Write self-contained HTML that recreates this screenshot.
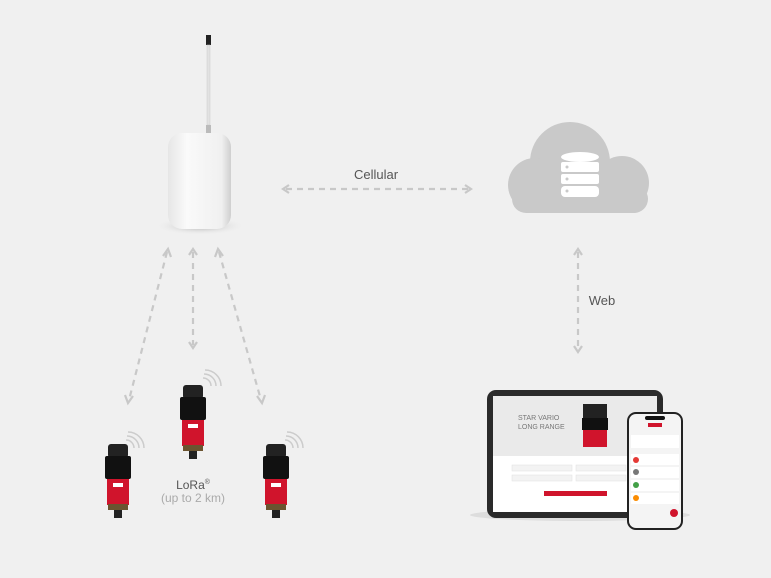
<!DOCTYPE html>
<html><head><meta charset="utf-8"><style>
html,body{margin:0;padding:0;background:#f0f0f0;}
svg{display:block;font-family:"Liberation Sans",sans-serif;}
</style></head><body>
<svg width="771" height="578" viewBox="0 0 771 578" xmlns="http://www.w3.org/2000/svg">
<defs>
<radialGradient id="sh" cx="0.5" cy="0.5" r="0.5"><stop offset="0" stop-color="#888" stop-opacity="0.7"/><stop offset="1" stop-color="#f0f0f0" stop-opacity="0"/></radialGradient>
<linearGradient id="box" x1="0" x2="1"><stop offset="0" stop-color="#e6e6e6"/><stop offset="0.3" stop-color="#fafafa"/><stop offset="0.85" stop-color="#f0f0f0"/><stop offset="1" stop-color="#cfcfcf"/></linearGradient>
<g id="lub">
<rect x="3" y="0" width="20" height="14" rx="3" fill="#222"/>
<rect x="0" y="12" width="26" height="23" rx="2" fill="#111"/>
<rect x="2" y="35" width="22" height="26" fill="#d0142c"/>
<rect x="8" y="39" width="10" height="4" fill="#fff"/>
<rect x="3" y="60" width="20" height="6" fill="#6b5430"/>
<rect x="9" y="66" width="8" height="8" fill="#222"/>
</g>
</defs>
<rect width="771" height="578" fill="#f0f0f0"/>
<!-- gateway -->
<rect x="206" y="35" width="5" height="10" fill="#222"/>
<rect x="207" y="45" width="3" height="80" fill="#e2e2e2" stroke="#ccc" stroke-width="0.5"/>
<rect x="206" y="125" width="5" height="8" fill="#bbb"/>
<ellipse cx="200" cy="226" rx="45" ry="9" fill="url(#sh)"/>
<rect x="168" y="133" width="63" height="96" rx="14" fill="url(#box)"/>
<!-- cellular -->
<text x="376" y="179" font-size="13" fill="#555" text-anchor="middle">Cellular</text>
<g stroke="#c8c8c8" stroke-width="2.2" fill="none">
<line x1="286" y1="189" x2="468" y2="189" stroke-dasharray="6,5"/>
<polyline points="289,185 283,189 289,193"/><polyline points="465,185 471,189 465,193"/>
<line x1="578" y1="252" x2="578" y2="349" stroke-dasharray="6,5"/>
<polyline points="574,255 578,249 582,255"/><polyline points="574,346 578,352 582,346"/>
<line x1="167" y1="252" x2="129" y2="400" stroke-dasharray="6,5"/>
<polyline points="163,256 168,249 171,257"/><polyline points="125,395 128,403 133,396"/>
<line x1="193" y1="252" x2="193" y2="345" stroke-dasharray="6,5"/>
<polyline points="189,255 193,249 197,255"/><polyline points="189,342 193,348 197,342"/>
<line x1="219" y1="252" x2="261" y2="400" stroke-dasharray="6,5"/>
<polyline points="215,257 218,249 223,256"/><polyline points="257,396 262,403 265,395"/>
</g>
<text x="602" y="305" font-size="13" fill="#555" text-anchor="middle">Web</text>
<!-- cloud -->
<g fill="#c9c9c9">
<circle cx="570" cy="162" r="40"/><circle cx="535" cy="185" r="27"/><circle cx="622" cy="183" r="27"/>
<rect x="535" y="175" width="87" height="38" />
<rect x="512" y="185" width="136" height="28" rx="14"/>
</g>
<g fill="#fff">
<ellipse cx="580" cy="157" rx="19" ry="5"/>
<rect x="561" y="162" width="38" height="10" rx="2"/>
<rect x="561" y="174" width="38" height="10" rx="2"/>
<rect x="561" y="186" width="38" height="11" rx="4"/>
</g>
<g fill="#c9c9c9"><circle cx="567" cy="167" r="1.5"/><circle cx="567" cy="179" r="1.5"/><circle cx="567" cy="191" r="1.5"/></g>
<!-- lubricators -->
<use href="#lub" x="105" y="444"/>
<use href="#lub" x="180" y="385"/>
<use href="#lub" x="263" y="444"/>
<g stroke="#ccc" stroke-width="1.5" fill="none">
<path d="M126 440 a8 8 0 0 1 8 8 M127 436 a12 12 0 0 1 12 12 M128 432 a16 16 0 0 1 16 16"/>
<path d="M203 378 a8 8 0 0 1 8 8 M204 374 a12 12 0 0 1 12 12 M205 370 a16 16 0 0 1 16 16"/>
<path d="M285 440 a8 8 0 0 1 8 8 M286 436 a12 12 0 0 1 12 12 M287 432 a16 16 0 0 1 16 16"/>
</g>
<text x="193" y="489" font-size="12" fill="#555" text-anchor="middle">LoRa<tspan font-size="7" dy="-5">®</tspan></text>
<text x="193" y="502" font-size="12" fill="#aaa" text-anchor="middle">(up to 2 km)</text>
<!-- tablet -->
<ellipse cx="580" cy="515" rx="110" ry="6" fill="#ddd"/>
<rect x="487" y="390" width="176" height="128" rx="9" fill="#2a2a2a"/>
<rect x="493" y="396" width="164" height="116" fill="#fff"/>
<rect x="493" y="396" width="164" height="60" fill="#eaeaea"/>
<text x="518" y="420" font-size="7" fill="#777">STAR VARIO</text>
<text x="518" y="429" font-size="7" fill="#777">LONG RANGE</text>
<rect x="583" y="404" width="24" height="14" fill="#222"/>
<rect x="582" y="418" width="26" height="12" fill="#111"/>
<rect x="583" y="430" width="24" height="17" fill="#d0142c"/>
<g fill="#f3f3f3" stroke="#e0e0e0" stroke-width="0.5">
<rect x="512" y="465" width="60" height="6"/><rect x="576" y="465" width="50" height="6"/>
<rect x="512" y="475" width="60" height="6"/><rect x="576" y="475" width="50" height="6"/>
</g>
<rect x="544" y="491" width="63" height="5" fill="#d0142c"/>
<!-- phone -->
<rect x="627" y="412" width="56" height="118" rx="9" fill="#222"/>
<rect x="629" y="414" width="52" height="114" rx="7" fill="#f4f4f4"/>
<rect x="645" y="416" width="20" height="4" rx="2" fill="#111"/>
<rect x="648" y="423" width="14" height="4" fill="#d0142c"/>
<g fill="#fff"><rect x="631" y="435" width="48" height="13"/><rect x="631" y="454" width="48" height="11"/><rect x="631" y="467" width="48" height="11"/><rect x="631" y="480" width="48" height="11"/><rect x="631" y="493" width="48" height="11"/></g>
<circle cx="636" cy="460" r="3" fill="#e53935"/><circle cx="636" cy="472" r="3" fill="#777"/><circle cx="636" cy="485" r="3" fill="#43a047"/><circle cx="636" cy="498" r="3" fill="#fb8c00"/>
<circle cx="674" cy="513" r="4" fill="#d0142c"/>
</svg>
</body></html>
